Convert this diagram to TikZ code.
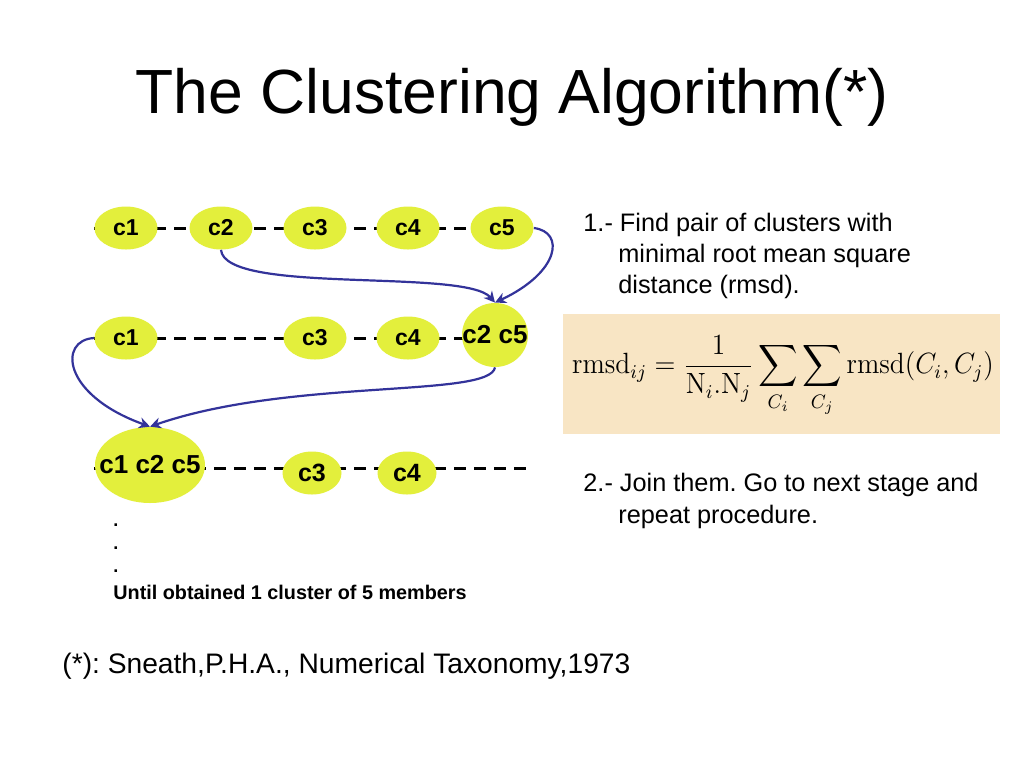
\documentclass[tikz,border=0pt]{standalone}
\usepackage{amsmath}
\usepackage{graphicx}
\usepackage[no-math]{fontspec}
\setmainfont{Liberation Sans}
\usepackage{tikz}
\usepackage{xcolor}
\usetikzlibrary{arrows.meta,shapes.geometric}
\definecolor{clyellow}{HTML}{E3EF3C}
\definecolor{clblue}{HTML}{33339A}
\definecolor{clbeige}{HTML}{F8E5C4}
\newcommand{\cltext}[1]{\makebox[0pt]{#1}}
\frenchspacing

\begin{document}
\begin{tikzpicture}[
  x=0.5pt, y=-0.5pt,
  clnode/.style={ellipse, fill=clyellow, inner sep=0pt, minimum width=31.5pt,
    minimum height=21.5pt, font=\fontsize{11.5}{13}\selectfont\bfseries},
  clbig/.style={clnode, font=\fontsize{13}{15}\selectfont\bfseries},
  cldash/.style={line width=1.5pt, dash pattern=on 6pt off 4pt},
  clmove/.style={draw=clblue, line width=1.1pt, -{Stealth[length=5.5pt,width=5.5pt]}},
  bodytext/.style={font=\fontsize{12.65}{14}\selectfont, anchor=base west, inner sep=0pt},
]
\useasboundingbox[fill=white] (0,0) rectangle (1024,768);

% title
\node[font=\fontsize{31.2}{36}\selectfont] (title) at (512,97) {The Clustering Algorithm(*)};

% stage lines (behind the clusters)
\foreach \y in {228,338,468} {
  \draw[cldash] (94,\y) -- (530,\y);
}

% stage 1
\foreach \n/\x in {1/126,2/221,3/315,4/408,5/502} {
  \node[clnode] (a\n) at (\x,228) {\cltext{c\n}};
}
% stage 2
\node[clnode] (b1) at (126,338) {\cltext{c1}};
\node[clnode] (b3) at (315,338) {\cltext{c3}};
\node[clnode] (b4) at (408,338) {\cltext{c4}};
\node[clbig, minimum width=33pt, minimum height=32pt] (b25) at (495,335) {\cltext{c2 c5}};
% stage 3
\node[clbig, minimum width=55pt, minimum height=38pt] (c125) at (150,465) {\cltext{c1 c2 c5}};
\node[clnode, font=\fontsize{12.5}{14}\selectfont\bfseries, minimum width=29.5pt] (c3) at (312,473) {\cltext{c3}};
\node[clnode, font=\fontsize{12.5}{14}\selectfont\bfseries, minimum width=29.5pt] (c4) at (407,473) {\cltext{c4}};

% merges
\draw[clmove] (a2.south) .. controls (225,295) and (465,268) .. (b25.north);
\draw[clmove] (a5.east) .. controls (565,232) and (560,272) .. (b25.north);
\draw[clmove] (b1.west) .. controls (58,340) and (62,395) .. (c125.north);
\draw[clmove] (b25.south) .. controls (490,398) and (290,378) .. (c125.north);

% continuation
\foreach \y [count=\k] in {525,548,571} {
  \node[font=\fontsize{9}{10}\selectfont\bfseries, inner sep=0pt] (dot\k) at (116,\y) {.};
}
\node[font=\fontsize{9.9}{11}\selectfont\bfseries, anchor=base west, inner sep=0pt] (until) at (113,599) {Until obtained 1 cluster of 5 members};

% steps
\node[bodytext] (s1a) at (583,231) {1.- Find pair of clusters with};
\node[bodytext] (s1b) at (618,262) {minimal root mean square};
\node[bodytext] (s1c) at (618,293) {distance (rmsd).};

\fill[clbeige] (563,314) rectangle (1000,434);
\node[font=\fontsize{12}{14}\selectfont] (rmsd) at (783,376)
  {\scalebox{1.14}[1.22]{$\displaystyle \mathrm{rmsd}_{ij}=\frac{1}{\mathrm{N}_i.\mathrm{N}_j}\sum_{C_i}\sum_{C_j}\mathrm{rmsd}(C_i,C_j)$}};

\node[bodytext] (s2a) at (583,491) {2.- Join them. Go to next stage and};
\node[bodytext] (s2b) at (618,523) {repeat procedure.};

% reference
\node[font=\fontsize{14.1}{16}\selectfont, anchor=base west, inner sep=0pt] (ref) at (62,673) {(*): Sneath,P.H.A., Numerical Taxonomy,1973};
\end{tikzpicture}
\end{document}
